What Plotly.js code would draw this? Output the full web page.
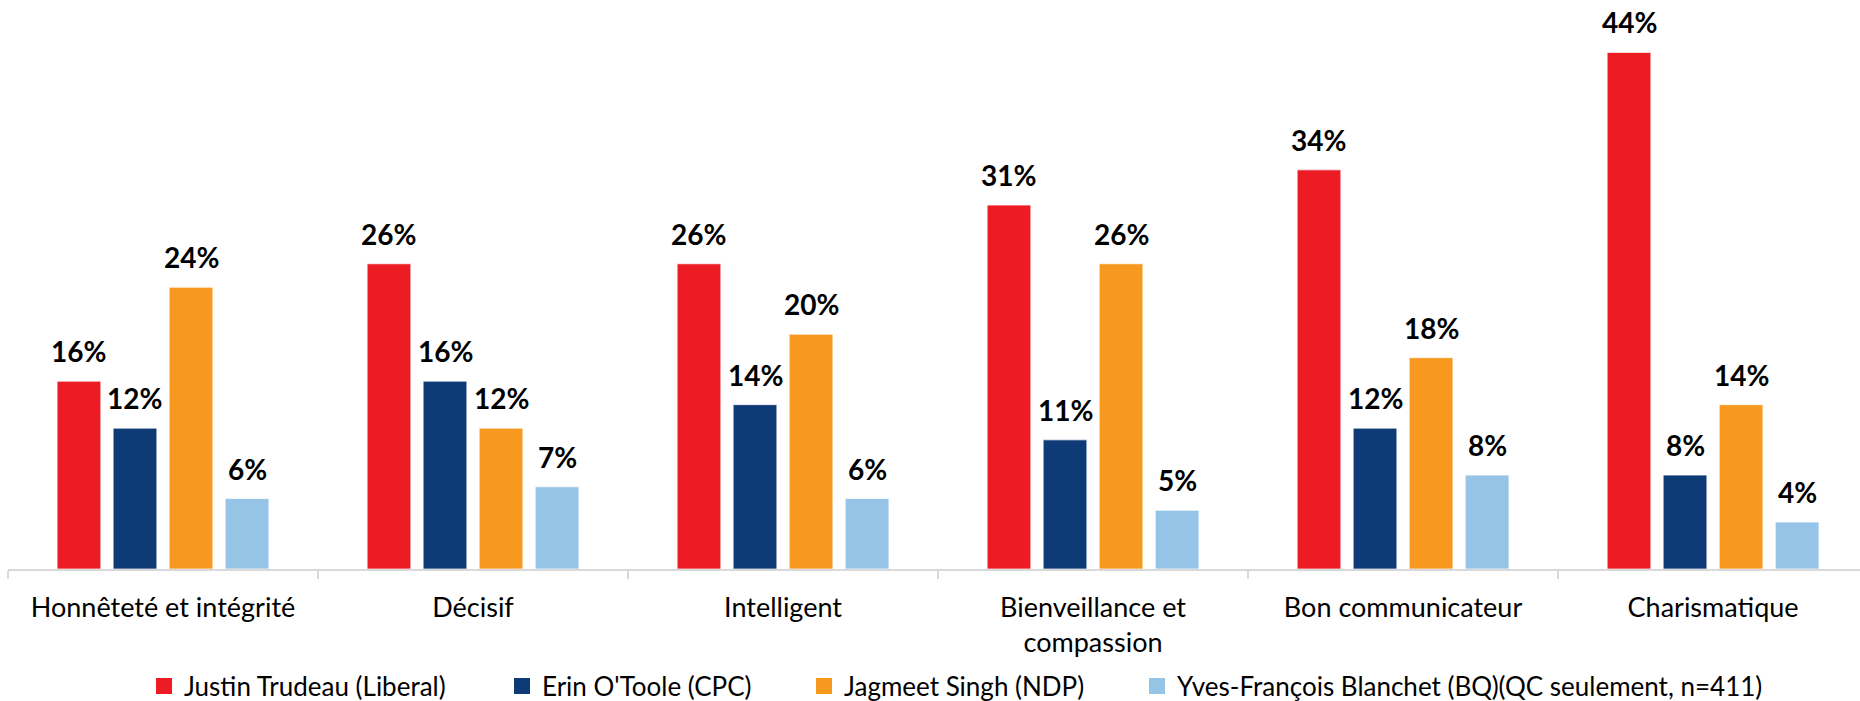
<!DOCTYPE html>
<html>
<head>
<meta charset="utf-8">
<script src="https://cdn.plot.ly/plotly-3.0.1.min.js"></script>
<style>html,body{margin:0;padding:0;background:#fff;}#chart{width:1860px;height:701px;}</style>
</head>
<body>
<div id="chart"></div>
<script>
const categories = ["Honnêteté et intégrité", "Décisif", "Intelligent", "Bienveillance et<br>compassion", "Bon communicateur", "Charismatique"];
const seriesNames = ["Justin Trudeau (Liberal)", "Erin O'Toole (CPC)", "Jagmeet Singh (NDP)", "Yves-François Blanchet (BQ)(QC seulement, n=411)"];
const trudeau = [16, 26, 26, 31, 34, 44];
const otoole = [12, 16, 14, 11, 12, 8];
const singh = [24, 12, 20, 26, 18, 14];
const blanchet = [6, 7, 6, 5, 8, 4];
const colors = ["#ED1C24", "#0E3A75", "#F7991E", "#95C4E7"];

const seriesValues = [trudeau, otoole, singh, blanchet];
const bargap = 0.277;
const bargroupgap = 0.22;
const FONT = "Lato, 'Open Sans', sans-serif";
const legendLeft = [144, 502, 804, 1137];
const legendIds = ["legend", "legend2", "legend3", "legend4"];

const traces = seriesValues.map((vals, j) => ({
  type: "bar",
  name: seriesNames[j],
  x: categories,
  y: vals,
  showlegend: false,
  marker: { color: colors[j], line: { color: "rgba(255,255,255,0.7)", width: 1 } },
  hoverinfo: "skip"
}));
// legend entries with larger square swatches (no data drawn)
seriesNames.forEach((nm, j) => {
  traces.push({
    type: "scatter",
    mode: "markers",
    name: nm,
    x: [null], y: [null],
    legend: legendIds[j],
    showlegend: true,
    marker: { symbol: "square", size: 16, color: colors[j], line: { width: 0 } },
    hoverinfo: "skip"
  });
});

const slot = (1 - bargap) / seriesValues.length;
const annotations = [];
seriesValues.forEach((vals, j) => {
  vals.forEach((v, i) => {
    annotations.push({
      xref: "x", yref: "y",
      x: i + (j - (seriesValues.length - 1) / 2) * slot,
      y: v,
      text: "<b>" + v + "%</b>",
      showarrow: false,
      yanchor: "bottom",
      yshift: 11,
      font: { family: FONT, size: 28, color: "#000" }
    });
  });
});

const layout = {
  width: 1860, height: 701,
  margin: { l: 8, r: 0, t: 0, b: 132 },
  paper_bgcolor: "#fff", plot_bgcolor: "#fff",
  barmode: "group",
  bargap: bargap,
  bargroupgap: bargroupgap,
  font: { family: FONT, size: 26, color: "#000" },
  showlegend: true,
  xaxis: {
    type: "category",
    categoryorder: "array",
    categoryarray: categories,
    range: [-0.5, 5.474],
    showline: true, linecolor: "#D9D9D9", linewidth: 1.5,
    ticks: "outside", tickson: "boundaries", ticklen: 8, tickcolor: "#D9D9D9", tickwidth: 1.5,
    ticklabelstandoff: 14,
    showgrid: false, zeroline: false,
    tickfont: { family: FONT, size: 27, color: "#000" }
  },
  yaxis: {
    range: [0, 48.47],
    visible: false,
    showgrid: false, zeroline: false
  },
  annotations: annotations
};
legendIds.forEach((id, j) => {
  layout[id] = {
    orientation: "h",
    xref: "container", yref: "container",
    x: legendLeft[j] / 1860, xanchor: "left",
    y: 0.0214, yanchor: "middle",
    bgcolor: "rgba(0,0,0,0)",
    font: { family: FONT, size: 26, color: "#000" }
  };
});

Plotly.newPlot("chart", traces, layout, { displayModeBar: false, staticPlot: true });
</script>
</body>
</html>
